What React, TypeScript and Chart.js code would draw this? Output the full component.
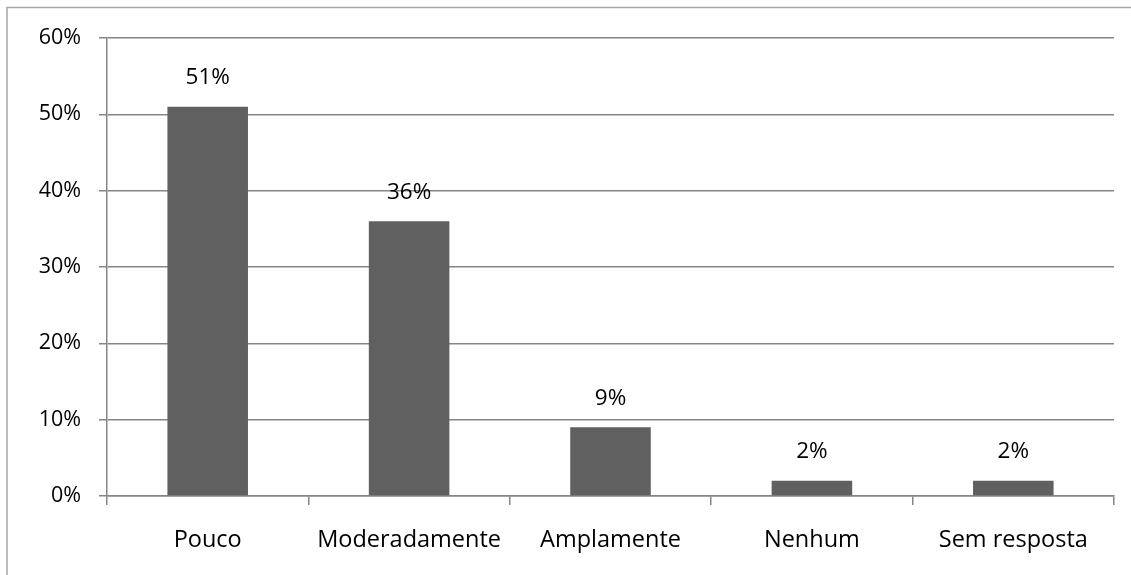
import React, { useEffect, useRef } from "react";
import { Chart, registerables } from "chart.js";

Chart.register(...registerables);

const categories = ["Pouco", "Moderadamente", "Amplamente", "Nenhum", "Sem resposta"];
const values = [51, 36, 9, 2, 2];
const yTicks = [0, 10, 20, 30, 40, 50, 60];

const FONT = "'Open Sans', sans-serif";
const SIZE_Y = 21.5;
const SIZE_X = 23.5;
const SIZE_LBL = 22.5;

export default function App() {
  const ref = useRef<HTMLCanvasElement | null>(null);
  useEffect(() => {
    const canvas = ref.current!;
    const frame = {
      id: "frame",
      beforeDraw(chart: any) {
        const ctx = chart.ctx;
        ctx.save();
        ctx.strokeStyle = "#a6a6a6";
        ctx.lineWidth = 1.5;
        ctx.beginPath();
        ctx.moveTo(7, 600);
        ctx.lineTo(7, 7.5);
        ctx.lineTo(1200, 7.5);
        ctx.stroke();
        ctx.restore();
      },
    };
    const labels = {
      id: "barLabels",
      afterDatasetsDraw(chart: any) {
        const ctx = chart.ctx;
        ctx.save();
        ctx.font = `${SIZE_LBL}px ${FONT}`;
        ctx.fillStyle = "#000";
        ctx.textAlign = "center";
        ctx.textBaseline = "middle";
        const meta = chart.getDatasetMeta(0);
        meta.data.forEach((bar: any, i: number) => {
          ctx.fillText(values[i] + "%", bar.x, bar.y - 29);
        });
        ctx.restore();
      },
    };
    const chart = new Chart(canvas, {
      type: "bar",
      data: {
        labels: categories,
        datasets: [
          {
            data: values,
            backgroundColor: "#606060",
            barPercentage: 0.8,
            categoryPercentage: 0.5,
          },
        ],
      },
      options: {
        animation: false,
        responsive: false,
        layout: { padding: { top: 38, right: 17, left: 0, bottom: 0 } },
        plugins: { legend: { display: false }, tooltip: { enabled: false } },
        scales: {
          x: {
            offset: true,
            grid: {
              offset: true,
              drawOnChartArea: false,
              drawTicks: true,
              tickLength: 9,
              color: "#868686",
              lineWidth: 1.5,
            },
            border: { color: "#868686", width: 1.5 },
            ticks: { color: "#000", font: { family: FONT, size: SIZE_X }, padding: 21 },
            afterFit(scale: any) {
              scale.height = 79;
            },
          },
          y: {
            min: 0,
            max: 60,
            afterBuildTicks(scale: any) {
              scale.ticks = yTicks.map((v) => ({ value: v }));
            },
            grid: { color: "#868686", lineWidth: 1.5, tickLength: 8 },
            border: { color: "#868686", width: 1.5 },
            ticks: {
              color: "#000",
              font: { family: FONT, size: SIZE_Y },
              padding: 18,
              callback: (v: any) => v + "%",
            },
            afterFit(scale: any) {
              scale.width = 107;
            },
          },
        },
      },
      plugins: [frame, labels],
    });
    return () => chart.destroy();
  }, []);
  return (
    <canvas
      ref={ref}
      width={1131}
      height={575}
      style={{ position: "absolute", left: 0, top: 0, display: "block" }}
    />
  );
}
